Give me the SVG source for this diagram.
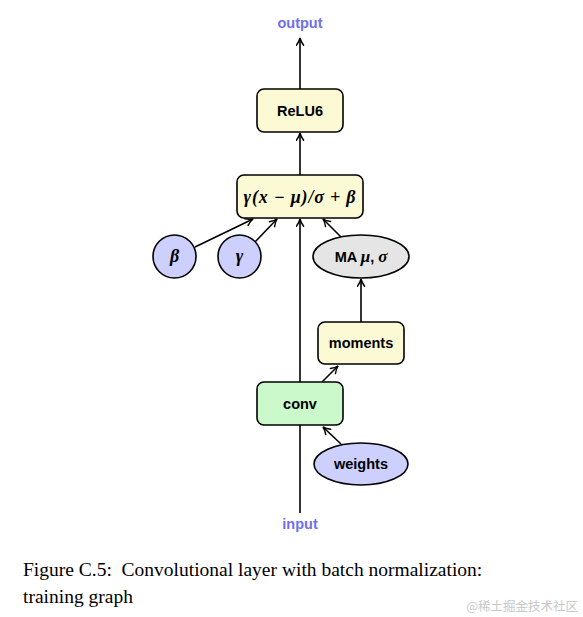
<svg xmlns="http://www.w3.org/2000/svg" width="583" height="617" viewBox="0 0 583 617">
<defs>
<marker id="arr" viewBox="0 0 10 10" refX="9" refY="5" markerWidth="9" markerHeight="9" markerUnits="userSpaceOnUse" orient="auto">
<path d="M1,1 Q5,4 9,5 Q5,6 1,9" fill="none" stroke="#000" stroke-width="1.6" stroke-linecap="round"/>
</marker>
</defs>
<style>
.box{stroke:#000;stroke-width:1.6}
.yel{fill:#fcfad4}
.grn{fill:#ccf9cc}
.blu{fill:#cdcffd}
.gry{fill:#e5e5e5}
.lbl{font-family:"Liberation Sans",Arial,sans-serif;font-weight:bold;font-size:14.5px;text-anchor:middle;fill:#000}
.math{font-family:"Liberation Serif","Times New Roman",serif;font-style:italic;font-weight:bold;font-size:18px;text-anchor:middle;fill:#000}
.io{font-family:"Liberation Sans",Arial,sans-serif;font-weight:bold;font-size:14.5px;text-anchor:middle;fill:#7070ec}
.edge{stroke:#000;stroke-width:1.6;fill:none;marker-end:url(#arr)}
.cap{font-family:"Liberation Serif","Times New Roman",serif;font-size:19.5px;fill:#000}
</style>
<g id="connectors">
<line class="edge" x1="300" y1="513" x2="300" y2="219"/>
<line class="edge" x1="341" y1="444" x2="323" y2="427"/>
<line class="edge" x1="322" y1="382" x2="338" y2="366"/>
<line class="edge" x1="361" y1="322" x2="361" y2="279"/>
<line class="edge" x1="341" y1="237" x2="323" y2="219"/>
<line class="edge" x1="195" y1="247" x2="253" y2="219"/>
<line class="edge" x1="255" y1="242" x2="277" y2="219"/>
<line class="edge" x1="300" y1="175" x2="300" y2="133"/>
<line class="edge" x1="300" y1="89" x2="300" y2="38"/>
</g>
<g id="output"><text class="io" x="300" y="28">output</text></g>
<g id="relu6">
<rect class="box yel" x="257" y="89" width="86" height="43" rx="7"/>
<text class="lbl" x="300" y="116">ReLU6</text>
</g>
<g id="bn">
<rect class="box yel" x="237" y="175" width="126" height="43" rx="7"/>
<text class="math" x="300" y="202.5" letter-spacing="0.8" xml:space="preserve">γ(x − μ)/σ + β</text>
</g>
<g id="beta">
<circle class="box blu" cx="174.5" cy="256.5" r="21.5"/>
<text class="math" x="174.5" y="262">β</text>
</g>
<g id="gamma">
<circle class="box blu" cx="239.5" cy="256.5" r="21.5"/>
<text class="math" x="239.5" y="262">γ</text>
</g>
<g id="ma">
<ellipse class="box gry" cx="361" cy="256.5" rx="48" ry="21.5"/>
<text class="lbl" x="361" y="262">MA <tspan font-family="Liberation Serif, serif" font-style="italic" font-size="17">μ</tspan>, <tspan font-family="Liberation Serif, serif" font-style="italic" font-size="17">σ</tspan></text>
</g>
<g id="moments">
<rect class="box yel" x="318" y="322" width="86" height="42" rx="7"/>
<text class="lbl" x="361" y="348">moments</text>
</g>
<g id="conv">
<rect class="box grn" x="257" y="382" width="86" height="43" rx="7"/>
<text class="lbl" x="300" y="409">conv</text>
</g>
<g id="weights">
<ellipse class="box blu" cx="361" cy="464" rx="47" ry="21"/>
<text class="lbl" x="361" y="469">weights</text>
</g>
<g id="input"><text class="io" x="300" y="529">input</text></g>
<g id="caption">
<text class="cap" x="23" y="576">Figure C.5:&#160; Convolutional layer with batch normalization:</text>
<text class="cap" x="23" y="603">training graph</text>
</g>
<text x="578" y="611" text-anchor="end" font-family="Noto Sans CJK SC, sans-serif" font-size="12.5" fill="#c8c8c8">@稀土掘金技术社区</text>
</svg>
